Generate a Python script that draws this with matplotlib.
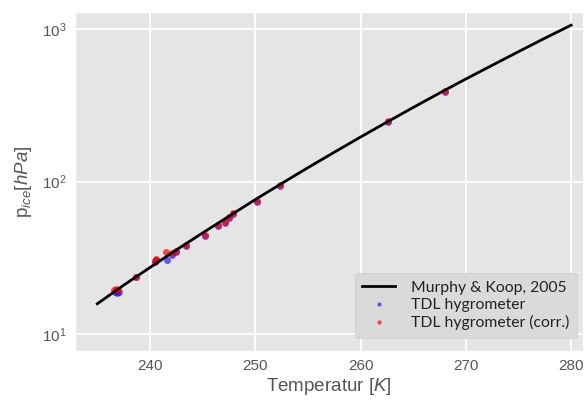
import numpy as np
import matplotlib
matplotlib.use('Agg')
import matplotlib.pyplot as plt

plt.style.use('ggplot')
plt.rcParams['font.family'] = ['Liberation Sans', 'DejaVu Sans']
plt.rcParams['mathtext.fontset'] = 'custom'
plt.rcParams['mathtext.rm'] = 'Liberation Sans'
plt.rcParams['mathtext.it'] = 'Liberation Sans:italic'

# Murphy & Koop (2005) curve
T_mk = [235, 237.5, 240, 242.5, 245, 247.5, 250, 252.5, 255, 257.5, 260,
        262.5, 265, 267.5, 270, 272.5, 275, 277.5, 280]
p_mk = [15.8, 20.9, 27.3, 35.6, 46.0, 59.2, 76.1, 97.0, 123.2, 155.5, 195.7,
        245.0, 305.9, 380.0, 470.0, 578.0, 710.0, 870.0, 1059.0]

# TDL hygrometer (raw)
T_tdl = [236.7, 236.9, 237.1, 238.66, 240.47, 240.6, 241.6, 242.06, 242.5,
         243.4, 245.2, 246.5, 247.1, 247.5, 247.9, 250.2, 252.4, 262.64, 268.0]
p_tdl = [18.9, 18.6, 19.0, 23.5, 29.6, 30.4, 30.6, 33.2, 34.4,
         37.8, 44.0, 51.0, 53.5, 57.5, 61.5, 73.8, 94.0, 247.0, 389.0]

# TDL hygrometer (corrected)
T_corr = [236.6, 236.8, 237.0, 238.66, 240.47, 240.6, 241.5, 242.06, 242.5,
          243.4, 245.2, 246.5, 247.1, 247.5, 247.9, 250.2, 252.4, 262.64, 268.0]
p_corr = [19.4, 19.8, 19.5, 23.8, 30.1, 31.0, 34.4, 33.8, 35.0,
          38.4, 44.6, 51.9, 54.5, 58.7, 62.4, 74.8, 95.3, 250.0, 393.0]

fig = plt.figure(figsize=(5.85, 4.03), dpi=100)
ax = fig.add_axes([0.128, 0.129, 0.868, 0.841])

ax.plot(T_mk, p_mk, color='black', lw=2, label='Murphy & Koop, 2005', zorder=3)
ax.plot(T_tdl, p_tdl, 'o', color='blue', ms=5, alpha=0.6, mec='none',
        label='TDL hygrometer', zorder=2)
ax.plot(T_corr, p_corr, 'o', color='red', ms=5, alpha=0.7, mec='none',
        label='TDL hygrometer (corr.)', zorder=2)

ax.set_yscale('log')
ax.set_xlim(232.87, 281.1)
ax.set_ylim(7.74, 1291)
ax.set_xticks([240, 250, 260, 270, 280])
ax.yaxis.set_minor_locator(matplotlib.ticker.NullLocator())
ax.grid(True, color='white', lw=1.3)
ax.tick_params(length=0, labelsize=11, labelcolor='#555555', pad=6)

ax.set_xlabel('Temperatur [$K$]', fontsize=13.5, color='#555555', labelpad=2)
ax.set_ylabel('p$_{ice}[hPa]$', fontsize=13.5, color='#555555', labelpad=6)

leg = ax.legend(loc='lower right', bbox_to_anchor=(1.005, 0.015),
                prop={'family': ['Lato', 'DejaVu Sans'], 'size': 11.3},
                facecolor='#dadada', edgecolor='#cccccc', framealpha=1,
                markerscale=0.6, handlelength=2.1, handletextpad=1.0,
                borderpad=0.5, labelspacing=0.2)
for t in leg.get_texts():
    t.set_color('#222222')

fig.savefig('out.png', dpi=100)
